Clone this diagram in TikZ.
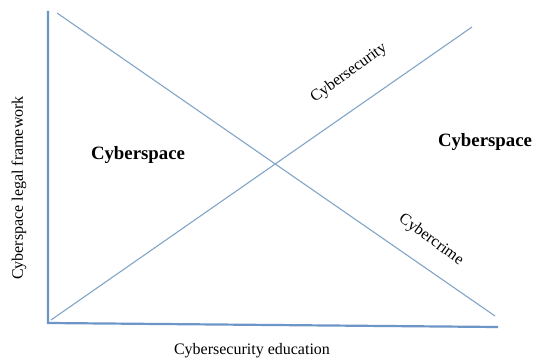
\documentclass[tikz,border=0pt]{standalone}
\usepackage{fontspec}
\setmainfont{Liberation Serif}
\begin{document}
\begin{tikzpicture}[x=1pt,y=-1pt,
  axisline/.style={draw=axisblue,line width=2.2pt},
  trendline/.style={draw=trendblue,line width=1.1pt},
  regionlabel/.style={font=\fontsize{18.8}{22}\selectfont\bfseries,inner sep=0pt},
  linelabel/.style={font=\fontsize{16}{19}\selectfont,inner sep=0pt},
  axislabel/.style={font=\fontsize{16}{19}\selectfont,inner sep=0pt}]
\definecolor{axisblue}{RGB}{108,150,200}
\definecolor{trendblue}{RGB}{130,165,200}
\useasboundingbox[fill=white] (0,0) rectangle (533,363);
% axes
\coordinate (top) at (48,12);
\coordinate (origin) at (48,323);
\coordinate (right) at (497,327);
\draw[axisline,line cap=rect] (top) -- (origin) -- (right);
% crossing trends
\coordinate (crimeStart) at (57,13);
\coordinate (crimeEnd) at (495,316);
\coordinate (secStart) at (51,320);
\coordinate (secEnd) at (472,27);
\draw[trendline] (crimeStart) -- (crimeEnd);
\draw[trendline] (secStart) -- (secEnd);
% labels
\node[regionlabel] (leftspace) at (138,155) {Cyberspace};
\node[regionlabel] (rightspace) at (485,142) {Cyberspace};
\node[linelabel,rotate=36] (seclabel) at (349,73) {Cybersecurity};
\node[linelabel,rotate=-36] (crimelabel) at (431,240) {Cybercrime};
\node[axislabel] (xlabel) at (252,351) {Cybersecurity education};
\node[axislabel,rotate=90] (ylabel) at (19,188) {Cyberspace legal framework};
\end{tikzpicture}
\end{document}
